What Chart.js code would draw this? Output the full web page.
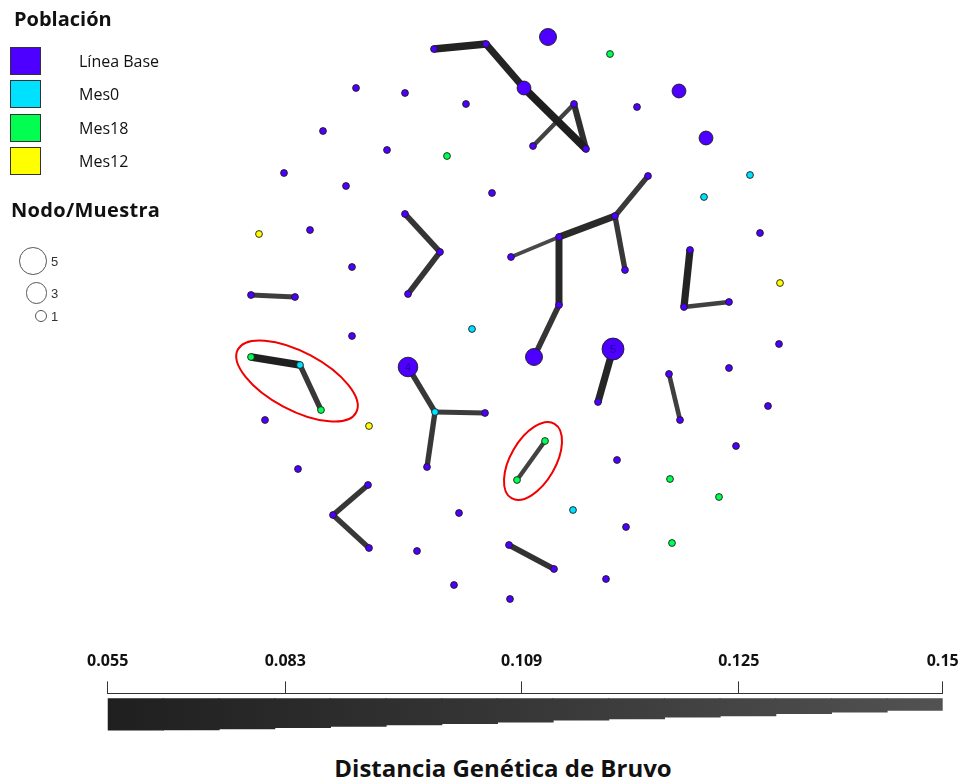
<!DOCTYPE html>
<html lang="es">
<head>
<meta charset="utf-8">
<title>Red de expansión mínima – Distancia genética de Bruvo</title>
<script src="https://cdn.jsdelivr.net/npm/chart.js@4.4.1/dist/chart.umd.min.js"></script>
<style>
  html, body { margin: 0; padding: 0; background: #fff; }
  #page { position: relative; width: 970px; height: 784px; overflow: hidden; font-family: "Open Sans", sans-serif; color: #111; }
  canvas { position: absolute; display: block; }
  #net { left: 0; top: 0; }
  #scale { left: 0; top: 640px; }
  .lg-title { position: absolute; font-weight: 700; font-size: 20px; line-height: 22px; white-space: nowrap; }
  .sw { position: absolute; left: 10px; width: 29px; height: 26px; border: 1px solid #333; }
  .sw-label { position: absolute; left: 79px; font-size: 16px; line-height: 20px; white-space: nowrap; }
  .ring { position: absolute; border: 1px solid #555; border-radius: 50%; box-sizing: border-box; }
  .ring-label { position: absolute; font-family: "Liberation Sans", Arial, sans-serif; font-size: 13px; line-height: 14px; color: #333; }
  #axis-title { position: absolute; left: 303px; width: 400px; top: 755px; text-align: center; font-weight: 700; font-size: 24px; line-height: 26px; white-space: nowrap; }
</style>
</head>
<body>
<div id="page">
  <canvas id="net" width="970" height="640"></canvas>
  <canvas id="scale" width="970" height="100"></canvas>
  <div id="legend"></div>
  <div id="axis-title">Distancia Genética de Bruvo</div>
</div>
<script>
// Populations
const popNames  = ['Línea Base', 'Mes0', 'Mes18', 'Mes12'];
const popColors = ['#4d00ff', '#00e1ff', '#00ff50', '#ffff00'];

// Multilocus genotypes (nodes): layout position, population index, number of samples
const nodeX = [434, 486, 524, 548, 356, 405, 466, 323, 387, 284, 346, 492, 405, 574, 637, 679, 706, 533, 586, 648,
               615, 310, 440, 511, 559, 352, 408, 251, 295, 625, 760, 690, 684, 729, 559, 352, 408, 534, 613, 598,
               779, 729, 669, 680, 768, 265, 485, 427, 298, 368, 333, 369, 459, 417, 509, 554, 454, 510, 617, 736,
               626, 606,
               750, 704, 472, 300, 435, 573,
               610, 447, 251, 321, 545, 517, 670, 719, 672,
               259, 780, 369];
const nodeY = [ 49,  44,  88,  37,  88,  93, 104, 131, 150, 173, 186, 193, 214, 104, 107,  91, 138, 146, 149, 176,
               216, 230, 252, 257, 237, 267, 294, 295, 297, 270, 233, 250, 307, 302, 305, 336, 367, 357, 349, 402,
               344, 368, 374, 420, 406, 420, 413, 467, 469, 485, 515, 548, 513, 551, 545, 569, 585, 599, 460, 446,
               527, 579,
               175, 197, 329, 365, 412, 510,
                54, 156, 357, 410, 441, 480, 479, 497, 543,
               234, 283, 426];
const nodePop = [0,0,0,0,0,0,0,0,0,0, 0,0,0,0,0,0,0,0,0,0,
                 0,0,0,0,0,0,0,0,0,0, 0,0,0,0,0,0,0,0,0,0,
                 0,0,0,0,0,0,0,0,0,0, 0,0,0,0,0,0,0,0,0,0,
                 0,0,
                 1,1,1,1,1,1,
                 2,2,2,2,2,2,2,2,2,
                 3,3,3];
const nodeSamples = [1,1,2,3,1,1,1,1,1,1, 1,1,1,1,1,2,2,1,1,1,
                     1,1,1,1,1,1,1,1,1,1, 1,1,1,1,1,1,4,3,5,1,
                     1,1,1,1,1,1,1,1,1,1, 1,1,1,1,1,1,1,1,1,1,
                     1,1,
                     1,1,1,1,1,1,
                     1,1,1,1,1,1,1,1,1,
                     1,1,1];

// Minimum spanning network edges (node indices) and Bruvo's distance
const edgeFrom = [ 0,  1,  2, 13, 13, 19, 20, 24, 20, 24, 34, 31, 32, 38, 42, 12, 22, 27, 70, 65, 36, 66, 66, 49, 50, 72, 54];
const edgeTo   = [ 1,  2, 18, 18, 17, 20, 24, 23, 29, 34, 37, 32, 33, 39, 43, 22, 26, 28, 65, 71, 66, 46, 47, 50, 51, 73, 55];
const edgeDist = [0.062, 0.066, 0.055, 0.085, 0.118, 0.102, 0.075, 0.130, 0.100, 0.070, 0.095, 0.066, 0.115, 0.068,
                  0.112, 0.095, 0.095, 0.110, 0.058, 0.100, 0.098, 0.105, 0.100, 0.097, 0.100, 0.118, 0.090];

// Distance scale (grey wedge)
const scaleTickLabels = ['0.055', '0.083', '0.109', '0.125', '0.15'];
const scaleTickPos    = [0, 0.2127, 0.4958, 0.7557, 1];
const wedgeWidth      = [31.9, 31.6, 30.6, 29.3, 28.0, 26.6, 25.3, 23.6, 21.6, 20.3, 18.6, 17.3, 15.0, 13.3, 11.6];

// Size legend (samples per node)
const sizeLegend = [5, 3, 1];

// Highlighted groups of genotypes (layout units)
const highlightRings = [
  { cx: 297, cy: 381, rx: 67, ry: 29, rot: 28 },
  { cx: 533, cy: 461, rx: 43, ry: 22.5, rot: -60 }
];

const DMIN = 0.055, DMAX = 0.15;
const grey = v => { const c = Math.round(v).toString(16).padStart(2, '0'); return '#' + c + c + c; };
const edgeT = d => Math.min(1, Math.max(0, (d - DMIN) / (DMAX - DMIN)));
const edgeColor = d => grey(30 + 55 * edgeT(d));
const edgeLineWidth = d => 7.8 - 5.2 * edgeT(d);
const nodeRadius = n => n > 1 ? 4.9 * Math.sqrt(n) : 3.4;

// ---- network ----
const nodeSets = popNames.map((name, p) => {
  const idx = nodeX.map((_, i) => i).filter(i => nodePop[i] === p);
  return {
    label: name,
    isNode: true,
    order: 0,
    showLine: false,
    data: idx.map(i => ({ x: nodeX[i], y: nodeY[i], n: nodeSamples[i] })),
    pointRadius: idx.map(i => nodeRadius(nodeSamples[i])),
    pointBackgroundColor: popColors[p],
    pointBorderColor: '#1c1c1c',
    pointBorderWidth: 0.9,
    clip: false
  };
});

const edgeSets = edgeFrom.map((a, k) => {
  const b = edgeTo[k];
  return {
    label: 'edge',
    order: 1,
    showLine: true,
    data: [{ x: nodeX[a], y: nodeY[a] }, { x: nodeX[b], y: nodeY[b] }],
    borderColor: edgeColor(edgeDist[k]),
    borderWidth: edgeLineWidth(edgeDist[k]),
    pointRadius: 0,
    fill: false,
    clip: false
  };
});

const countLabels = {
  id: 'countLabels',
  afterDatasetsDraw(chart) {
    const ctx = chart.ctx;
    ctx.save();
    ctx.font = '11px "Liberation Sans", Arial, sans-serif';
    ctx.fillStyle = '#24009a';
    ctx.textAlign = 'center';
    ctx.textBaseline = 'middle';
    chart.data.datasets.forEach((ds, di) => {
      if (!ds.isNode) return;
      chart.getDatasetMeta(di).data.forEach((pt, j) => {
        const n = ds.data[j].n;
        if (n >= 4) ctx.fillText(String(n), pt.x, pt.y + 1);
      });
    });
    ctx.restore();
  }
};

const rings = {
  id: 'rings',
  afterDatasetsDraw(chart) {
    const { ctx, scales: { x, y } } = chart;
    ctx.save();
    ctx.strokeStyle = '#f00000';
    ctx.lineWidth = 2;
    highlightRings.forEach(r => {
      const px = x.getPixelForValue(r.cx), py = y.getPixelForValue(r.cy);
      const rx = Math.abs(x.getPixelForValue(r.cx + r.rx) - px);
      const ry = Math.abs(y.getPixelForValue(r.cy + r.ry) - py);
      ctx.beginPath();
      ctx.ellipse(px, py, rx, ry, r.rot * Math.PI / 180, 0, Math.PI * 2);
      ctx.stroke();
    });
    ctx.restore();
  }
};

new Chart(document.getElementById('net'), {
  type: 'scatter',
  data: { datasets: [...nodeSets, ...edgeSets] },
  options: {
    responsive: false,
    animation: false,
    devicePixelRatio: 1,
    events: [],
    layout: { padding: 0, autoPadding: false },
    plugins: { legend: { display: false }, tooltip: { enabled: false }, title: { display: false } },
    scales: {
      x: { type: 'linear', min: 0, max: 970, display: false },
      y: { type: 'linear', min: 0, max: 640, reverse: true, display: false }
    }
  },
  plugins: [rings, countLabels]
});

// ---- distance scale ----
new Chart(document.getElementById('scale'), {
  type: 'bar',
  data: {
    labels: wedgeWidth.map((_, i) => String(i)),
    datasets: [{
      data: wedgeWidth,
      xAxisID: 'x',
      yAxisID: 'y',
      borderWidth: 0,
      inflateAmount: 0.6,
      barPercentage: 1,
      categoryPercentage: 1,
      backgroundColor(c) {
        const a = c.chart.chartArea;
        if (!a) return '#333';
        const g = c.chart.ctx.createLinearGradient(a.left, 0, a.right, 0);
        g.addColorStop(0, '#1f1f1f');
        g.addColorStop(0.5, '#373737');
        g.addColorStop(1, '#525252');
        return g;
      }
    }]
  },
  options: {
    responsive: false,
    animation: false,
    devicePixelRatio: 1,
    events: [],
    layout: { padding: { left: 107.7, right: 27.3, top: 6.8, bottom: 0 }, autoPadding: false },
    plugins: { legend: { display: false }, tooltip: { enabled: false } },
    scales: {
      x: { type: 'category', display: false, offset: true },
      y: { type: 'linear', display: false, reverse: true, min: -5.7, max: 42.3 },
      dist: {
        type: 'linear',
        axis: 'x',
        position: 'top',
        min: 0,
        max: 1,
        offset: false,
        afterBuildTicks(s) { s.ticks = scaleTickPos.map(v => ({ value: v })); },
        ticks: {
          autoSkip: false,
          maxRotation: 0,
          padding: 10,
          color: '#111',
          font: { family: 'Open Sans', weight: 'bold', size: 16 },
          callback: (v, i) => scaleTickLabels[i]
        },
        grid: { offset: false, drawOnChartArea: false, tickLength: 12, color: '#333', lineWidth: 1 },
        border: { display: true, color: '#333', width: 1 }
      }
    }
  }
});

// ---- legend ----
const legend = document.getElementById('legend');
const add = (cls, css, text) => {
  const el = document.createElement('div');
  el.className = cls;
  Object.assign(el.style, css);
  if (text !== undefined) el.textContent = text;
  legend.appendChild(el);
  return el;
};
add('lg-title', { left: '14px', top: '8px' }, 'Población');
popNames.forEach((name, i) => {
  const top = 47 + i * 33.4;
  add('sw', { top: top + 'px', background: popColors[i] });
  add('sw-label', { top: (top + 4) + 'px' }, name);
});
add('lg-title', { left: '11px', top: '199px', letterSpacing: '0.3px' }, 'Nodo/Muestra');
const ringCentersY = [261, 293, 316];
sizeLegend.forEach((n, i) => {
  const r = 6.2 * Math.sqrt(n);
  add('ring', { left: (47 - 2 * r) + 'px', top: (ringCentersY[i] - r) + 'px', width: (2 * r) + 'px', height: (2 * r) + 'px' });
  add('ring-label', { left: '51px', top: (ringCentersY[i] - 6) + 'px' }, String(n));
});
</script>
</body>
</html>
